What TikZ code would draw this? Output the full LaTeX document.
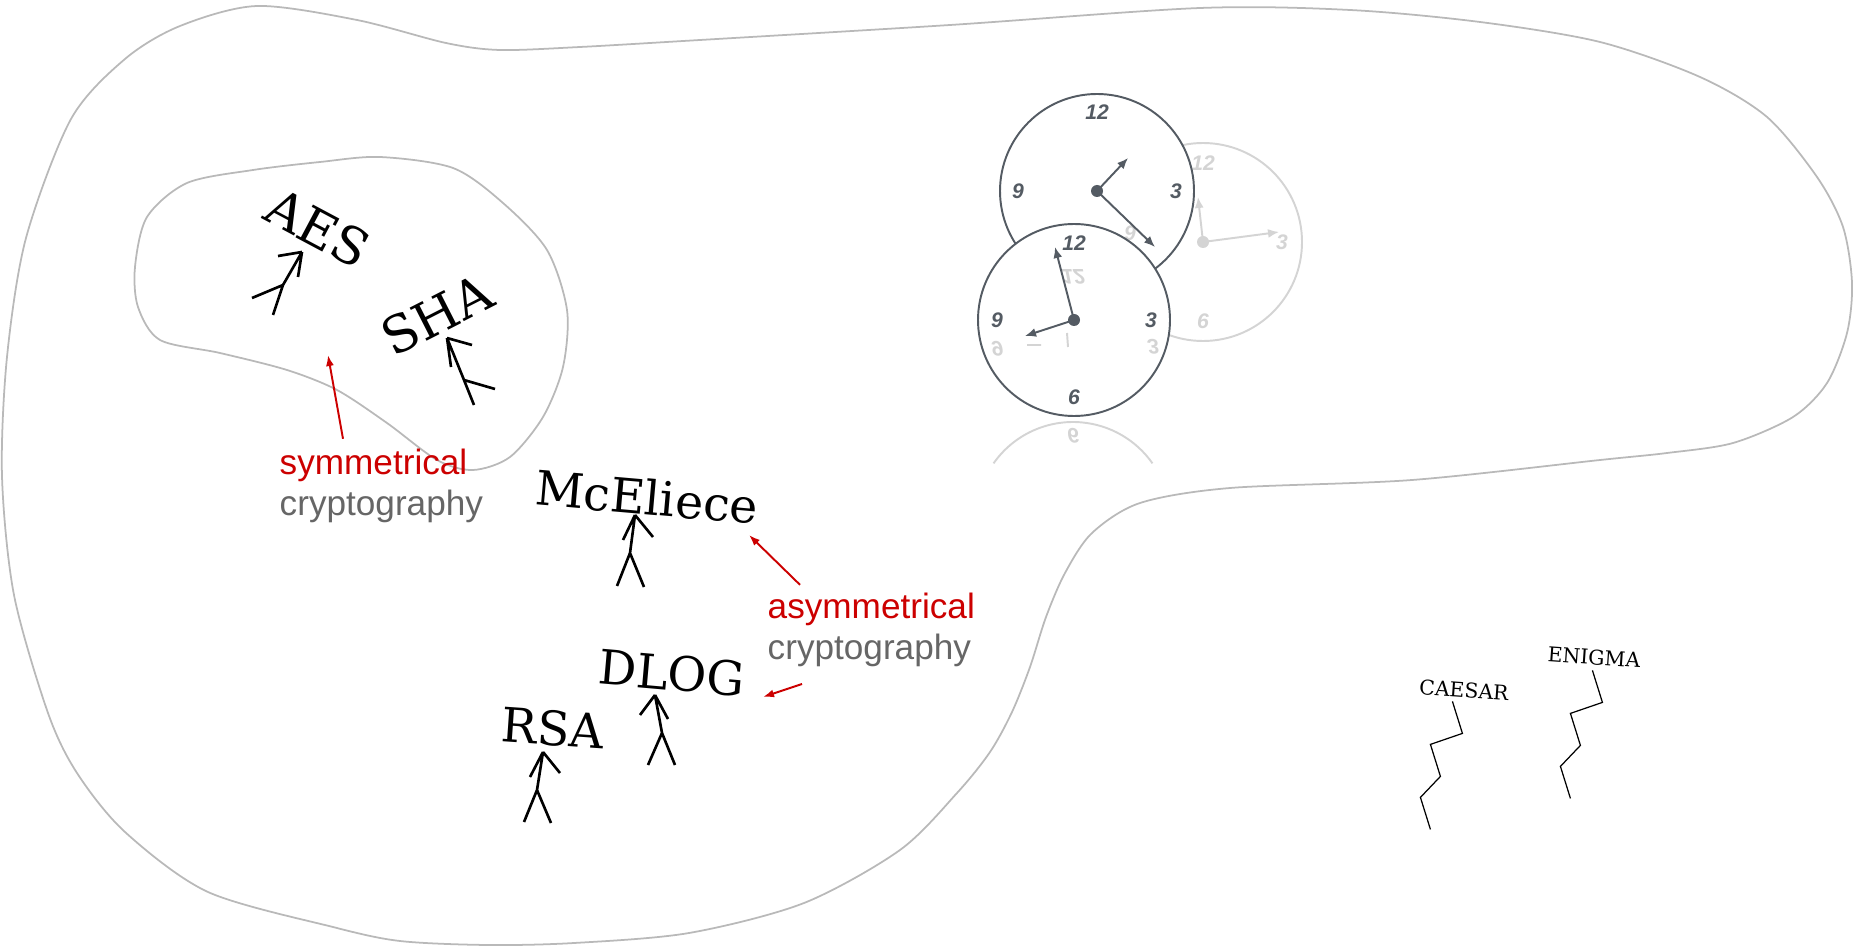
\documentclass[tikz,border=0pt]{standalone}
\usepackage{fontspec}
\setmainfont{DejaVu Serif}
\newfontfamily\notefont{Liberation Sans}
\usetikzlibrary{arrows.meta}

\definecolor{notered}{RGB}{204,0,0}
\definecolor{notegray}{RGB}{102,102,102}
\definecolor{outlinegray}{RGB}{185,185,185}
\definecolor{dial}{RGB}{84,91,99}
\definecolor{faded}{RGB}{212,212,212}

\begin{document}
\begin{tikzpicture}[x=0.01cm, y=-0.01cm,
            region/.style = {draw=outlinegray, line width=0.5pt},
            algo/.style = {inner sep=0pt, font=\fontsize{13.5}{16}\selectfont},
            minor/.style = {inner sep=0pt, font=\fontsize{5.8}{7}\selectfont},
            note/.style = {inner sep=0pt, anchor=base west,
                font=\notefont\fontsize{10}{12}\selectfont},
            pointer/.style = {draw=notered, line width=0.55pt,
                -{Latex[length=1.1mm,width=0.8mm]}},
            limb/.style = {line width=0.75pt},
            wire/.style = {line width=0.35pt},
            face/.style = {draw=dial, line width=0.55pt, fill=white},
            digit/.style = {inner sep=0pt, text=dial,
                font=\notefont\bfseries\itshape\fontsize{6}{7}\selectfont},
            hand/.style = {draw=dial, line width=0.55pt,
                -{Latex[length=1.1mm,width=0.9mm]}}]

    \useasboundingbox (0,0) rectangle (1864,946);

    % outer world and the symmetric island
    \draw[region] plot[smooth cycle] coordinates {(257,6) (357,20) (446,43) (500,50)
        (580,47) (700,40) (950,25) (1200,8) (1350,10) (1480,22) (1600,42) (1700,77)
        (1767,117) (1817,177) (1843,227) (1852,283) (1847,333) (1827,383) (1793,417)
        (1733,443) (1667,453) (1600,460) (1412,480) (1230,488) (1140,503) (1092,533)
        (1065,573) (1046,617) (1030,667) (1012,712) (990,752) (957,793) (900,850)
        (804,903) (689,933) (574,943) (488,945) (400,941) (333,927) (208,892)
        (125,832) (77,773) (48,713) (14,595) (2,476) (7,357) (26,238) (71,119)
        (125,59) (180,26)};
    \draw[region] plot[smooth cycle] coordinates {(380,157) (453,168) (503,203)
        (547,250) (567,310) (563,367) (543,417) (510,457) (473,470) (437,460)
        (387,423) (337,390) (287,370) (220,353) (160,340) (138,307) (135,267)
        (147,217) (187,183) (253,170) (320,162)};

    \node[algo, font=\fontsize{14.5}{17}\selectfont, rotate=-28] (aes) at (318,228) {AES};
    \node[algo, font=\fontsize{14.5}{17}\selectfont, rotate=27] (sha) at (437,315) {SHA};
    \node[algo, rotate=-5] (mceliece) at (647,497) {McEliece};
    \node[algo, rotate=-5] (dlog) at (672,673) {DLOG};
    \node[algo, rotate=-4] (rsa) at (553,728) {RSA};
    \node[minor, rotate=-4] (caesar) at (1464,690) {CAESAR};
    \node[minor, rotate=-4] (enigma) at (1594,657) {ENIGMA};

    % stick figures under the names
    \draw[limb] (302,252) -- (278,256) (302,252) -- (298,277)
        (302,252) -- (283,285) -- (273,315) (283,285) -- (252,298);
    \draw[limb] (447,338) -- (472,345) (447,338) -- (451,367)
        (447,338) -- (464,380) -- (474,405) (464,380) -- (495,389);
    \draw[limb] (635,515) -- (623,540) (635,515) -- (653,537)
        (635,515) -- (630,553) -- (617,586) (630,553) -- (644,587);
    \draw[limb] (655,695) -- (640,715) (655,695) -- (668,719)
        (655,695) -- (662,733) -- (648,765) (662,733) -- (675,765);
    \draw[limb] (543,752) -- (530,777) (543,752) -- (560,773)
        (543,752) -- (537,790) -- (524,822) (537,790) -- (551,823);

    \foreach \lbl/\dx/\dy in {caesar/-11/3, enigma/-1/5}
        \draw[wire] ([shift={(\dx,\dy)}]\lbl.south) -- ++(10,32) -- ++(-32,11)
            -- ++(10,32) -- ++(-20,21) -- ++(10,32);

    \node[note, text=notered] (symword) at (279,475) {symmetrical};
    \node[note, text=notegray] (symkind) at (279,515) {cryptography};
    \node[note, text=notered] (asymword) at (767,618) {asymmetrical};
    \node[note, text=notegray] (asymkind) at (767,659) {cryptography};

    \coordinate (symtip) at (328,355);
    \coordinate (mctip) at (749,535);
    \coordinate (dlogtip) at (763,697);
    \draw[pointer] ([shift={(64,-10)}]symword.north west) -- (symtip);
    \draw[pointer] ([shift={(33,-7)}]asymword.north west) -- (mctip);
    \draw[pointer] ([shift={(35,17)}]asymkind.south west) -- (dlogtip);

    % clocks: faded one behind, two in front
    \coordinate (clkC) at (1203,242);
    \draw[face, draw=faded] (clkC) circle[radius=99];
    \foreach \h/\a in {12/-90, 3/0, 6/90}
        \node[digit, text=faded] (clkC-\h) at ([shift={(\a:79)}]clkC) {\h};
    \draw[hand, draw=faded] (clkC) -- ++(76,-10);
    \draw[hand, draw=faded] (clkC) -- ++(-5,-45);
    \fill[faded] (clkC) circle[radius=6];

    \coordinate (clkA) at (1097,191);
    \draw[face] (clkA) circle[radius=97];
    \foreach \h/\a in {12/-90, 3/0, 9/180}
        \node[digit] (clkA-\h) at ([shift={(\a:79)}]clkA) {\h};
    \node[digit, text=faded] (clkC-9) at (1130,233) {9};
    \draw[hand] (clkA) -- ++(31,-33);
    \draw[hand] (clkA) -- ++(58,56);
    \fill[dial] (clkA) circle[radius=6];

    \coordinate (clkB) at (1074,320);
    \draw[face] (clkB) circle[radius=96];
    \node[digit, text=faded, yscale=-1] (mirB-12) at (1073,277) {12};
    \node[digit, text=faded, yscale=-1] (mirB-3) at (1153,347) {3};
    \node[digit, text=faded, yscale=-1] (mirB-9) at (997,349) {9};
    \draw[faded, line width=0.55pt] (1067,333) -- (1068,347) (1027,345) -- (1041,345);
    \foreach \h/\a in {12/-90, 3/0, 6/90, 9/180}
        \node[digit] (clkB-\h) at ([shift={(\a:77)}]clkB) {\h};
    \draw[hand] (clkB) -- ++(-19,-73);
    \draw[hand] (clkB) -- ++(-49,16);
    \fill[dial] (clkB) circle[radius=6];

    % mirror image under the front clock
    \coordinate (clkR) at (1073,519);
    \draw[faded, line width=0.55pt] ([shift={(-145:97)}]clkR)
        arc[start angle=-145, end angle=-35, radius=97];
    \node[digit, text=faded, yscale=-1] (mirR-6) at (1073,436) {6};

\end{tikzpicture}
\end{document}
